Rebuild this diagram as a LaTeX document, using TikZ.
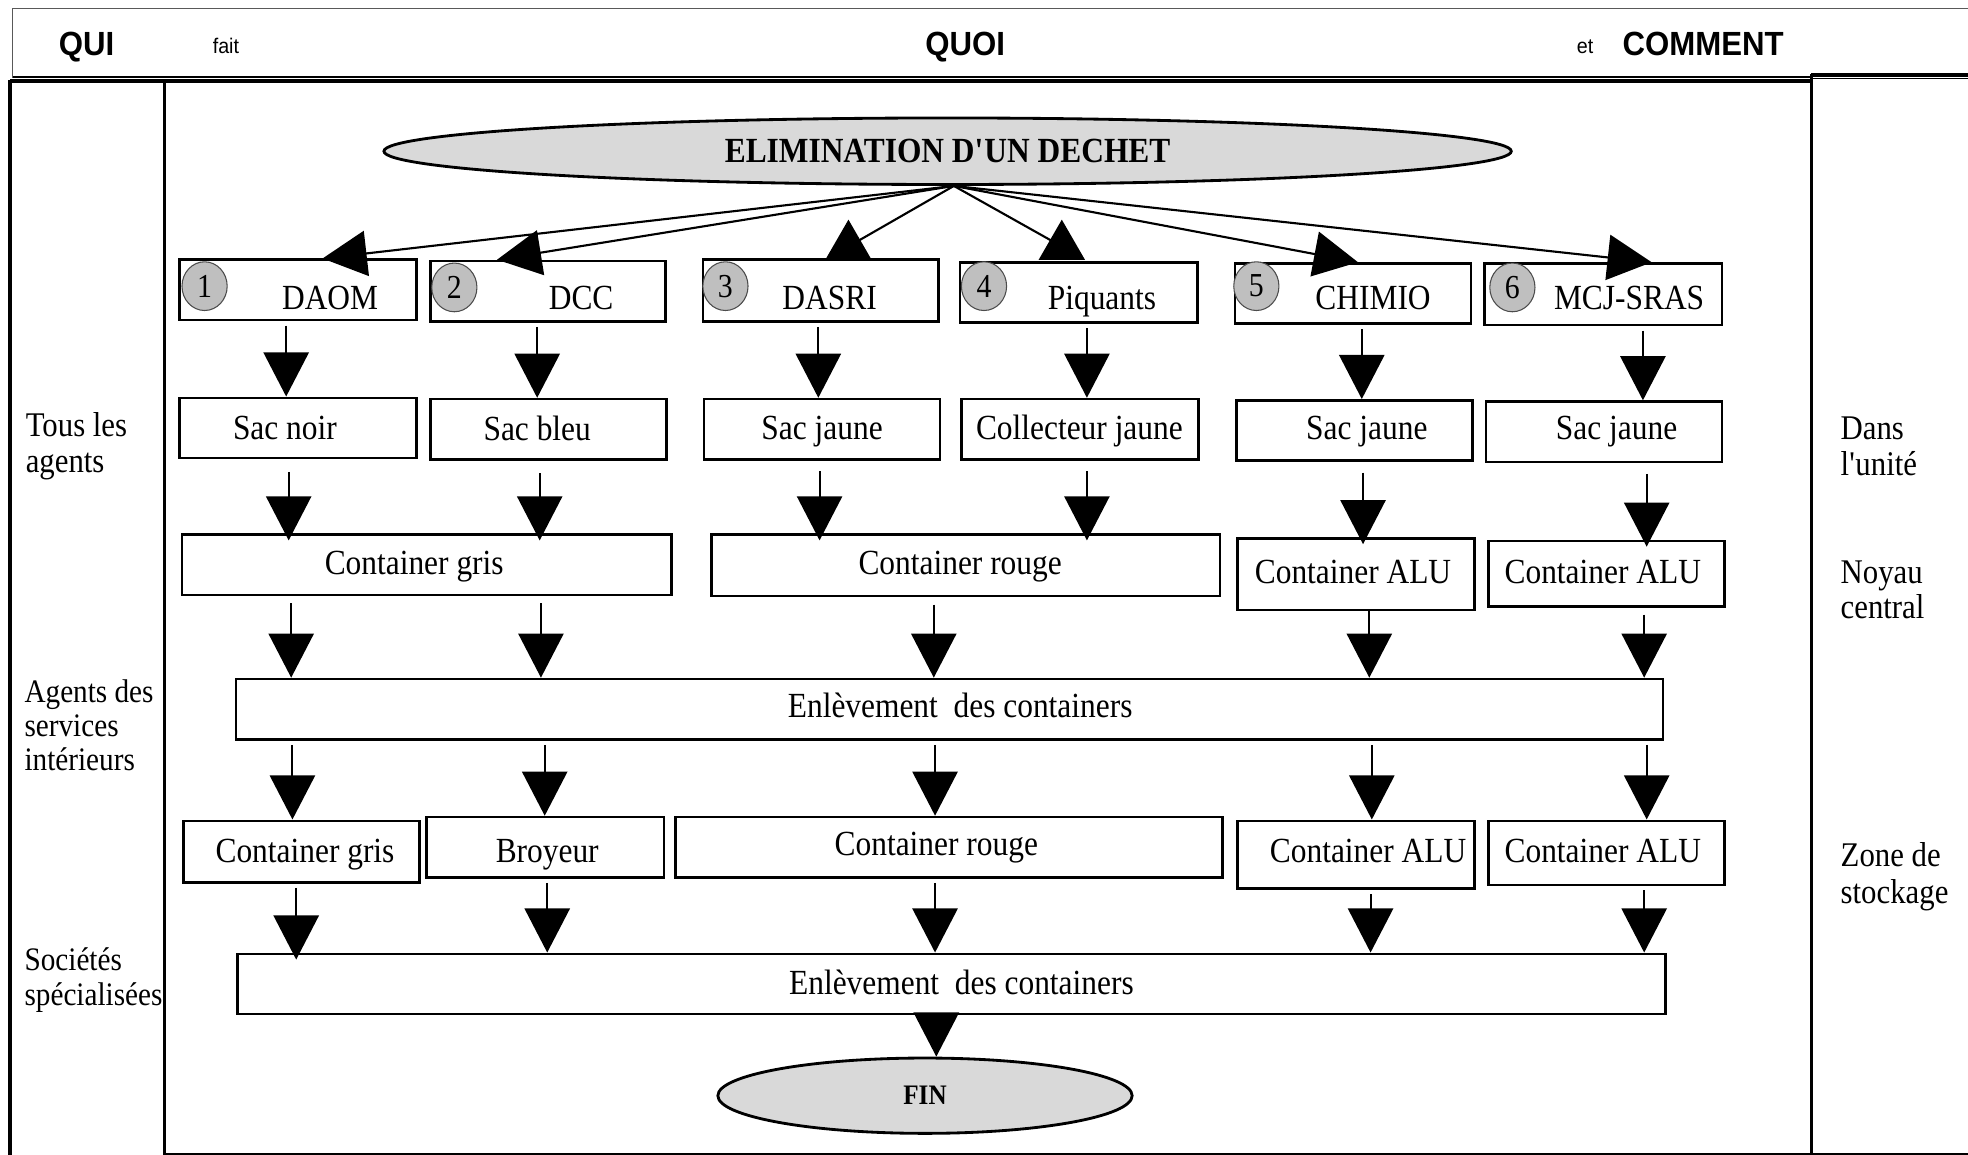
\documentclass[tikz,border=0pt]{standalone}
\usepackage{fontspec}
\setmainfont{Liberation Serif}[FakeStretch=0.89]
\newfontfamily\hdfont{Liberation Sans}[FakeStretch=0.93]
\usetikzlibrary{arrows.meta,shapes.geometric,fit}
\newcommand\mybox[5]{\node[box, fit={(#2,#3) (#4,#5)}] (#1) {};}
\newcommand\varr[4][]{\draw[arr,#1] (#2,0 |- #3.south) -- (#2,0 |- #4.north);}
\begin{document}
\begin{tikzpicture}[x=0.0125cm, y=-0.0125cm,
  box/.style={draw, line width=0.75pt, inner sep=0pt},
  tx/.style={inner sep=0pt, anchor=base, font=\fontsize{10}{12}\selectfont},
  arr/.style={line width=0.6pt, -{Triangle[length=12.5pt,width=12.8pt]}, shorten <=1.2pt},
  ln/.style={line width=0.6pt},
  num/.style={ellipse, draw=gray!60!black, line width=0.3pt, fill=gray!50, minimum width=12.8pt, minimum height=13.8pt, inner sep=0pt, font=\fontsize{9.5}{9.5}\selectfont},
  ell/.style={ellipse, draw, line width=0.8pt, fill=gray!30, inner sep=0pt},
  head/.style={regular polygon, regular polygon sides=3, fill=black, minimum size=15.2pt, inner sep=0pt},
  side/.style={align=left, anchor=west, inner sep=0pt},
  hd/.style={inner sep=0pt, anchor=base, font=\hdfont\bfseries\fontsize{9.5}{10}\selectfont},
  hds/.style={inner sep=0pt, anchor=base, font=\hdfont\fontsize{6}{6}\selectfont}]
\useasboundingbox (0,0) rectangle (1568,920);

% frame
\draw[gray!70!black, line width=0.4pt] (10,62) -- (10,7) -- (1568,7);
\draw[line width=0.4pt] (10,61.5) -- (1443,61.5);
\draw[line width=1.1pt] (8,64.5) -- (1443,64.5);
\draw[line width=1.1pt] (1443,59.5) -- (1568,59.5);
\draw[line width=0.4pt] (1443,62.5) -- (1568,62.5);
\draw[line width=1pt] (8,64) -- (8,920);
\draw[line width=0.7pt] (131,64) -- (131,920);
\draw[line width=0.9pt] (1443,59) -- (1443,920);
\draw[line width=0.4pt] (131,919.3) -- (1568,919.3);

% header
\node[hd] (qui) at (69,44.5) {QUI};
\node[hds] (fait) at (180,43) {fait};
\node[hd] (quoi) at (769,44.5) {QUOI};
\node[hds] (et) at (1263,43) {et};
\node[hd] (comment) at (1357,44.5) {COMMENT};

% side labels
\node[side, font=\fontsize{9.8}{10.3}\selectfont] (qa) at (20,355.5) {Tous les\\agents};
\node[side, font=\fontsize{9.3}{9.6}\selectfont] (qb) at (19,578) {Agents des\\services\\intérieurs};
\node[side, font=\fontsize{9.3}{10}\selectfont] (qc) at (19,781) {Sociétés\\spécialisées};
\node[side, font=\fontsize{9.8}{10.3}\selectfont] (ra) at (1466,355.5) {Dans\\l\textquotesingle unité};
\node[side, font=\fontsize{9.8}{10}\selectfont] (rb) at (1466,470) {Noyau\\central};
\node[side, font=\fontsize{9.8}{10.3}\selectfont] (rc) at (1466,698.5) {Zone de\\stockage};

% ellipses
\node[ell, minimum width=11.225cm, minimum height=0.6625cm, font=\bfseries\fontsize{10}{12}\selectfont] (el) at (755,120.5) {ELIMINATION D\textquotesingle UN DECHET};
\node[ell, minimum width=4.125cm, minimum height=0.75cm, font=\bfseries\fontsize{8}{10}\selectfont] (fin) at (737,873) {FIN};
\coordinate (o) at (760,0 |- el.south);

% row 1
\mybox{t1}{143}{207}{332}{255}
\mybox{t2}{343}{208}{530}{256}
\mybox{t3}{560}{207}{748}{256}
\mybox{t4}{765}{209}{954}{257}
\mybox{t5}{984}{210}{1172}{258}
\mybox{t6}{1183}{210}{1372}{259}
\node[num] (n1) at (163,228) {1};
\node[num] (n2) at (362,229) {2};
\node[num] (n3) at (578,228) {3};
\node[num] (n4) at (784,228) {4};
\node[num] (n5) at (1001,228) {5};
\node[num] (n6) at (1205,229) {6};
\node[tx] (lt1) at (263,247) {DAOM};
\node[tx] (lt2) at (463,247) {DCC};
\node[tx] (lt3) at (661,247) {DASRI};
\node[tx] (lt4) at (878,247) {Piquants};
\node[tx] (lt5) at (1094,247) {CHIMIO};
\node[tx] (lt6) at (1298,247) {MCJ-SRAS};

% row 2
\mybox{s1}{143}{317}{332}{365}
\mybox{s2}{343}{318}{531}{366}
\mybox{s3}{561}{318}{749}{366}
\mybox{s4}{766}{318}{955}{366}
\mybox{s5}{985}{319}{1173}{367}
\mybox{s6}{1184}{320}{1372}{368}
\node[tx] (ls1) at (227,350) {Sac noir};
\node[tx] (ls2) at (428,351) {Sac bleu};
\node[tx] (ls3) at (655,350) {Sac jaune};
\node[tx] (ls4) at (860,350) {Collecteur jaune};
\node[tx] (ls5) at (1089,350) {Sac jaune};
\node[tx] (ls6) at (1288,350) {Sac jaune};

% row 3
\mybox{c1}{145}{426}{535}{474}
\mybox{c2}{567}{426}{972}{475}
\mybox{c3}{986}{429}{1175}{486}
\mybox{c4}{1186}{431}{1374}{483}
\node[tx] (lc1) at (330,458) {Container gris};
\node[tx] (lc2) at (765,458) {Container rouge};
\node[tx] (lc3) at (1078,465) {Container ALU};
\node[tx] (lc4) at (1277,465) {Container ALU};

% row 4
\mybox{e1}{188}{541}{1325}{589}
\node[tx] (le1) at (765,572) {Enlèvement~~des containers};

% row 5
\mybox{d1}{146}{654}{334}{703}
\mybox{d2}{340}{651}{529}{699}
\mybox{d3}{538}{651}{974}{699}
\mybox{d4}{986}{654}{1175}{708}
\mybox{d5}{1186}{654}{1374}{705}
\node[tx] (ld1) at (243,687) {Container gris};
\node[tx] (ld2) at (436,687) {Broyeur};
\node[tx] (ld3) at (746,682) {Container rouge};
\node[tx] (ld4) at (1090,687) {Container ALU};
\node[tx] (ld5) at (1277,687) {Container ALU};

% row 6
\mybox{e2}{189}{760}{1327}{808}
\node[tx] (le2) at (766,792) {Enlèvement~~des containers};

% top arrows
\draw[arr, shorten <=0pt] (o) -- (257,0 |- t1.north);
\draw[arr, shorten <=0pt] (o) -- (396,0 |- t2.north);
\node[head] (h3) at (676,196.4) {};
\node[head] (h4) at (846,196.4) {};
\draw[ln] (o) -- (h3.center);
\draw[ln] (o) -- (h4.center);
\draw[arr, shorten <=0pt] (o) -- (1082,0 |- t5.north);
\draw[arr, shorten <=0pt] (o) -- (1316,0 |- t6.north);

% row 1 -> row 2
\varr{228}{t1}{s1}
\varr{428}{t2}{s2}
\varr{652}{t3}{s3}
\varr{866}{t4}{s4}
\varr{1085}{t5}{s5}
\varr{1309}{t6}{s6}

% row 2 -> row 3
\varr[shorten <=3.5pt, shorten >=-2pt]{230}{s1}{c1}
\varr[shorten <=3.5pt, shorten >=-2pt]{430}{s2}{c1}
\varr[shorten <=3pt, shorten >=-2pt]{653}{s3}{c2}
\varr[shorten <=3pt, shorten >=-2pt]{866}{s4}{c2}
\varr[shorten <=3pt, shorten >=-2pt]{1086}{s5}{c3}
\varr[shorten <=3pt, shorten >=-2pt]{1312}{s6}{c4}

% row 3 -> row 4
\varr[shorten <=2pt]{232}{c1}{e1}
\varr[shorten <=2pt]{431}{c1}{e1}
\varr[shorten <=2pt]{744}{c2}{e1}
\varr[shorten <=0pt]{1091}{c3}{e1}
\varr[shorten <=2pt]{1310}{c4}{e1}

% row 4 -> row 5
\varr{233}{e1}{d1}
\varr{434}{e1}{d2}
\varr{745}{e1}{d3}
\varr{1093}{e1}{d4}
\varr{1312}{e1}{d5}

% row 5 -> row 6
\varr[shorten >=-2pt]{236}{d1}{e2}
\varr{436}{d2}{e2}
\varr{745}{d3}{e2}
\varr{1092}{d4}{e2}
\varr{1310}{d5}{e2}

% row 6 -> FIN
\draw[arr, shorten <=0pt] (746,0 |- e2.south) -- (746,0 |- fin.north);
\end{tikzpicture}
\end{document}
